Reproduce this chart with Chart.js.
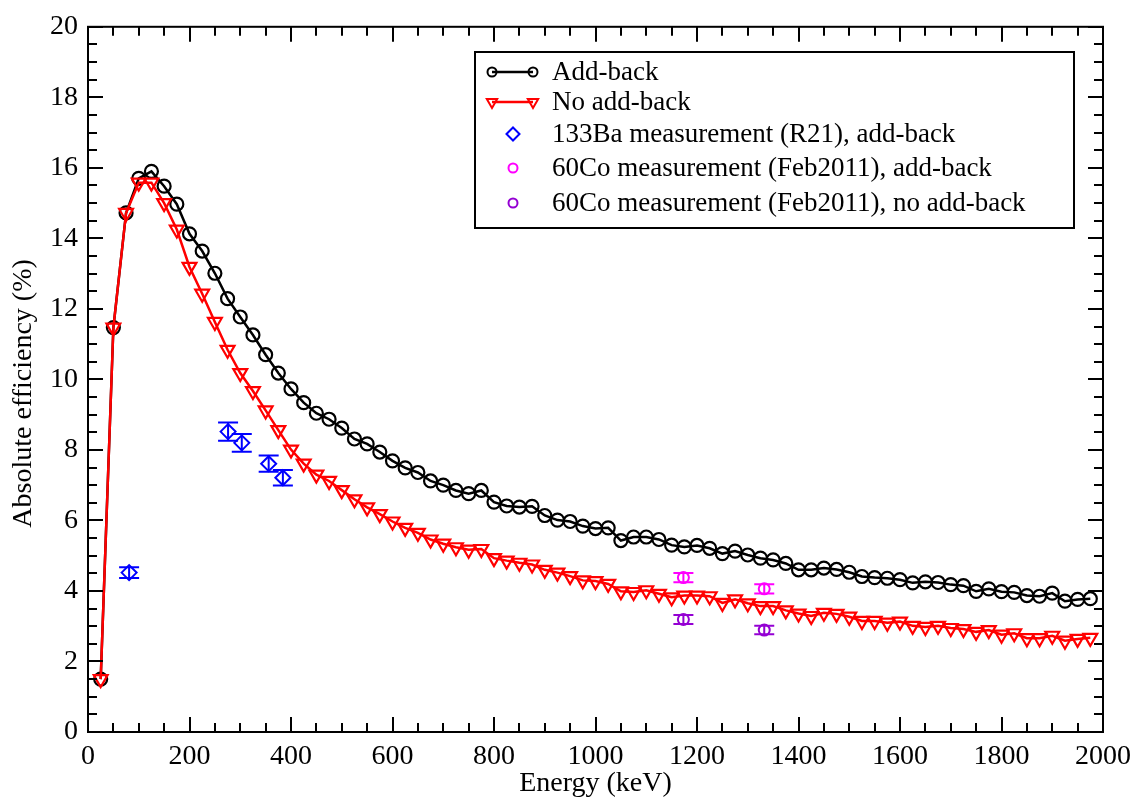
<!DOCTYPE html>
<html>
<head>
<meta charset="utf-8">
<script src="https://cdn.jsdelivr.net/npm/chart.js@4/dist/chart.umd.min.js"></script>
<style>
  html, body { margin: 0; padding: 0; background: #ffffff; }
  #wrap { width: 1139px; height: 801px; }
</style>
</head>
<body>
<div id="wrap"><canvas id="c" width="1139" height="801"></canvas></div>
<script>
// Simulated full-energy efficiency curves (keV vs %)
const energies = [
  25, 50, 75, 100, 125, 150, 175, 200, 225, 250,
  275, 300, 325, 350, 375, 400, 425, 450, 475, 500,
  525, 550, 575, 600, 625, 650, 675, 700, 725, 750,
  775, 800, 825, 850, 875, 900, 925, 950, 975, 1000,
  1025, 1050, 1075, 1100, 1125, 1150, 1175, 1200, 1225, 1250,
  1275, 1300, 1325, 1350, 1375, 1400, 1425, 1450, 1475, 1500,
  1525, 1550, 1575, 1600, 1625, 1650, 1675, 1700, 1725, 1750,
  1775, 1800, 1825, 1850, 1875, 1900, 1925, 1950, 1975
];
const addBack = [
  1.50, 11.47, 14.72, 15.70, 15.90, 15.48, 14.97, 14.13, 13.64, 13.01,
  12.29, 11.77, 11.26, 10.70, 10.18, 9.73, 9.34, 9.04, 8.87, 8.62,
  8.31, 8.17, 7.94, 7.69, 7.49, 7.36, 7.12, 7.00, 6.85, 6.76,
  6.85, 6.52, 6.41, 6.38, 6.40, 6.14, 6.01, 5.97, 5.84, 5.77,
  5.79, 5.43, 5.53, 5.53, 5.46, 5.30, 5.25, 5.29, 5.21, 5.06,
  5.13, 5.02, 4.93, 4.88, 4.78, 4.60, 4.60, 4.65, 4.61, 4.53,
  4.41, 4.38, 4.36, 4.32, 4.23, 4.26, 4.24, 4.18, 4.15, 3.99,
  4.06, 3.98, 3.96, 3.87, 3.85, 3.94, 3.71, 3.76, 3.78
];
const noAddBack = [
  1.50, 11.47, 14.72, 15.58, 15.58, 15.00, 14.25, 13.19, 12.43, 11.63,
  10.84, 10.18, 9.67, 9.12, 8.56, 8.01, 7.61, 7.30, 7.12, 6.86,
  6.60, 6.37, 6.18, 5.97, 5.79, 5.65, 5.46, 5.34, 5.24, 5.17,
  5.19, 4.93, 4.86, 4.80, 4.75, 4.60, 4.52, 4.42, 4.30, 4.28,
  4.20, 3.99, 3.97, 4.02, 3.92, 3.82, 3.87, 3.87, 3.85, 3.66,
  3.76, 3.65, 3.57, 3.57, 3.45, 3.36, 3.29, 3.38, 3.35, 3.27,
  3.15, 3.15, 3.10, 3.13, 3.01, 2.98, 3.01, 2.95, 2.92, 2.84,
  2.89, 2.76, 2.80, 2.66, 2.66, 2.73, 2.59, 2.64, 2.67
];

// Source measurements
const ba133Energy = [81, 276, 303, 356, 384];
const ba133Eff    = [4.52, 8.52, 8.20, 7.61, 7.21];
const ba133Err    = [0.15, 0.26, 0.25, 0.23, 0.22];

const co60Energy       = [1173.2, 1332.5];
const co60AddBack      = [4.38, 4.06];
const co60AddBackErr   = [0.13, 0.13];
const co60NoAddBack    = [3.19, 2.89];
const co60NoAddBackErr = [0.13, 0.12];

// Axis tick labels
const xTickValues = [0, 200, 400, 600, 800, 1000, 1200, 1400, 1600, 1800, 2000];
const yTickValues = [0, 2, 4, 6, 8, 10, 12, 14, 16, 18, 20];
const xMinorStep = 50;
const yMinorStep = 0.5;

const toPoints = (xs, ys) => xs.map((x, i) => ({ x: x, y: ys[i] }));

const SERIF = "'Liberation Serif', 'DejaVu Serif', 'Times New Roman', serif";
Chart.defaults.font.family = SERIF;
Chart.defaults.font.size = 28;
Chart.defaults.color = '#000000';

const HOLLOW = 'rgba(0,0,0,0)';

// Vertical error bars with caps
const errorBars = {
  id: 'errorBars',
  afterDatasetsDraw(chart) {
    const { ctx, scales: { x, y } } = chart;
    chart.data.datasets.forEach((ds) => {
      if (!ds.errors) return;
      ctx.save();
      ctx.strokeStyle = ds.borderColor;
      ctx.lineWidth = 2;
      ds.data.forEach((p, j) => {
        const px = x.getPixelForValue(p.x);
        const yt = y.getPixelForValue(p.y + ds.errors[j]);
        const yb = y.getPixelForValue(p.y - ds.errors[j]);
        ctx.beginPath();
        ctx.moveTo(px, yt); ctx.lineTo(px, yb);
        ctx.moveTo(px - 10, yt); ctx.lineTo(px + 10, yt);
        ctx.moveTo(px - 10, yb); ctx.lineTo(px + 10, yb);
        ctx.stroke();
      });
      ctx.restore();
    });
  }
};

// Box frame with inward major/minor ticks on all four sides
const frameTicks = {
  id: 'frameTicks',
  afterDraw(chart) {
    const { ctx, chartArea: a, scales: { x, y } } = chart;
    ctx.save();
    ctx.strokeStyle = '#000000';
    ctx.lineWidth = 2;
    ctx.beginPath();
    const nx = Math.round((x.max - x.min) / xMinorStep);
    for (let i = 0; i <= nx; i++) {
      const v = x.min + i * xMinorStep;
      const px = Math.round(x.getPixelForValue(v));
      const len = xTickValues.includes(v) ? 15 : 9;
      ctx.moveTo(px, a.bottom); ctx.lineTo(px, a.bottom - len);
      ctx.moveTo(px, a.top); ctx.lineTo(px, a.top + len);
    }
    const ny = Math.round((y.max - y.min) / yMinorStep);
    for (let i = 0; i <= ny; i++) {
      const v = y.min + i * yMinorStep;
      const py = Math.round(y.getPixelForValue(v));
      const len = yTickValues.includes(v) ? 15 : 9;
      ctx.moveTo(a.left, py); ctx.lineTo(a.left + len, py);
      ctx.moveTo(a.right, py); ctx.lineTo(a.right - len, py);
    }
    ctx.stroke();
    ctx.strokeRect(a.left, a.top, a.right - a.left, a.bottom - a.top);
    ctx.restore();
  }
};

// Boxed legend in the upper right
const boxLegend = {
  id: 'boxLegend',
  afterDraw(chart) {
    const { ctx } = chart;
    const box = { left: 475, top: 52, right: 1074, bottom: 228 };
    const rows = [72, 102, 134, 168, 203];
    const textX = 552;
    ctx.save();
    ctx.fillStyle = '#ffffff';
    ctx.fillRect(box.left, box.top, box.right - box.left, box.bottom - box.top);
    ctx.strokeStyle = '#000000';
    ctx.lineWidth = 2;
    ctx.strokeRect(box.left, box.top, box.right - box.left, box.bottom - box.top);
    chart.data.datasets.forEach((ds) => {
      const rowY = rows[ds.legendRow];
      ctx.strokeStyle = ds.borderColor;
      ctx.fillStyle = HOLLOW;
      const style = {
        pointStyle: ds.pointStyle,
        rotation: ds.pointRotation || 0,
        radius: ds.legendRadius,
        borderWidth: 2
      };
      if (ds.showLine) {
        ctx.lineWidth = ds.borderWidth;
        ctx.beginPath();
        ctx.moveTo(492, rowY); ctx.lineTo(533, rowY);
        ctx.stroke();
        ctx.lineWidth = 2;
        Chart.helpers.drawPoint(ctx, style, 492, rowY);
        Chart.helpers.drawPoint(ctx, style, 533, rowY);
      } else {
        ctx.lineWidth = 2;
        Chart.helpers.drawPoint(ctx, style, 513, rowY);
      }
      ctx.fillStyle = '#000000';
      ctx.font = '27px ' + SERIF;
      ctx.textBaseline = 'middle';
      ctx.textAlign = 'left';
      ctx.fillText(ds.label, textX, rowY + 1);
    });
    ctx.restore();
  }
};

const datasets = [
  {
    label: '133Ba measurement (R21), add-back',
    data: toPoints(ba133Energy, ba133Eff),
    errors: ba133Err,
    showLine: false,
    borderColor: '#0000ff',
    backgroundColor: HOLLOW,
    pointStyle: 'rectRot',
    pointRadius: 7.5,
    pointBorderWidth: 2,
    legendRadius: 6.5,
    legendRow: 2,
    order: 1
  },
  {
    label: '60Co measurement (Feb2011), add-back',
    data: toPoints(co60Energy, co60AddBack),
    errors: co60AddBackErr,
    showLine: false,
    borderColor: '#ff00ff',
    backgroundColor: HOLLOW,
    pointStyle: 'circle',
    pointRadius: 5.5,
    pointBorderWidth: 2,
    legendRadius: 4.5,
    legendRow: 3,
    order: 1
  },
  {
    label: '60Co measurement (Feb2011), no add-back',
    data: toPoints(co60Energy, co60NoAddBack),
    errors: co60NoAddBackErr,
    showLine: false,
    borderColor: '#9400d3',
    backgroundColor: HOLLOW,
    pointStyle: 'circle',
    pointRadius: 5.5,
    pointBorderWidth: 2,
    legendRadius: 4.5,
    legendRow: 4,
    order: 1
  },
  {
    label: 'No add-back',
    data: toPoints(energies, noAddBack),
    showLine: true,
    borderColor: '#ff0000',
    borderWidth: 2.5,
    backgroundColor: HOLLOW,
    pointStyle: 'triangle',
    pointRotation: 180,
    pointRadius: 8,
    pointBorderWidth: 2.2,
    legendRadius: 6,
    legendRow: 1,
    tension: 0,
    order: 2
  },
  {
    label: 'Add-back',
    data: toPoints(energies, addBack),
    showLine: true,
    borderColor: '#000000',
    borderWidth: 2.5,
    backgroundColor: HOLLOW,
    pointStyle: 'circle',
    pointRadius: 6.5,
    pointBorderWidth: 2.2,
    legendRadius: 4.5,
    legendRow: 0,
    tension: 0,
    order: 3
  }
];

new Chart(document.getElementById('c'), {
  type: 'scatter',
  data: { datasets: datasets },
  plugins: [errorBars, frameTicks, boxLegend],
  options: {
    responsive: false,
    animation: false,
    events: [],
    layout: { padding: { top: 20, right: 34, left: 0, bottom: 0 } },
    plugins: { legend: { display: false }, tooltip: { enabled: false } },
    scales: {
      x: {
        type: 'linear',
        min: 0, max: 2000,
        grid: { display: false, drawTicks: false },
        border: { display: false },
        afterBuildTicks: (s) => { s.ticks = xTickValues.map(v => ({ value: v })); },
        afterFit: (s) => { s.height = 69; },
        ticks: { padding: 8, maxRotation: 0, autoSkip: false, callback: (v) => String(v) },
        title: { display: true, text: 'Energy (keV)', padding: { top: 0, bottom: 1 } }
      },
      y: {
        type: 'linear',
        min: 0, max: 20,
        grid: { display: false, drawTicks: false },
        border: { display: false },
        afterBuildTicks: (s) => { s.ticks = yTickValues.map(v => ({ value: v })); },
        afterFit: (s) => { s.width = 88; },
        ticks: { padding: 10, autoSkip: false, callback: (v) => String(v) },
        title: { display: true, text: 'Absolute efficiency (%)    ', padding: { top: 7, bottom: 0 } }
      }
    }
  }
});
</script>
</body>
</html>
